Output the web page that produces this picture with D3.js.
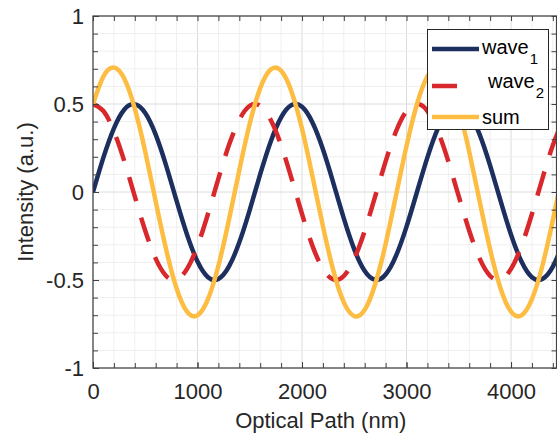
<!DOCTYPE html>
<html>
<head>
<meta charset="utf-8">
<script src="https://cdn.jsdelivr.net/npm/d3@7"></script>
<style>
  html, body { margin: 0; padding: 0; background: #fff; }
  svg { display: block; }
</style>
</head>
<body>
<div id="chart"></div>
<script>
// optical path samples (nm) and intensities
const pathNm = [0, 100, 200, 300, 400, 500, 600, 700, 800, 900, 1000, 1100, 1200, 1300, 1400, 1500,
  1600, 1700, 1800, 1900, 2000, 2100, 2200, 2300, 2400, 2500, 2600, 2700, 2800, 2900, 3000,
  3100, 3200, 3300, 3400, 3500, 3600, 3700, 3800, 3900, 4000, 4100, 4200, 4300, 4400, 4500];

const wave1 = [0, .197, .362, .469, .499, .449, .326, .150, -.051, -.243, -.395, -.484, -.494, -.424, -.286, -.101,
  .101, .286, .424, .494, .484, .395, .243, .051, -.150, -.326, -.449, -.499, -.469, -.362, -.197,
  0, .197, .362, .469, .499, .449, .326, .150, -.051, -.243, -.395, -.484, -.494, -.424, -.286];

const wave2 = [.5, .460, .345, .174, -.025, -.220, -.379, -.477, -.497, -.437, -.306, -.125, .076, .265, .410, .490,
  .490, .410, .265, .076, -.125, -.306, -.437, -.497, -.477, -.379, -.220, -.025, .174, .345, .460,
  .5, .460, .345, .174, -.025, -.220, -.379, -.477, -.497, -.437, -.306, -.125, .076, .265, .410];

const waveSum = [.5, .657, .707, .643, .474, .229, -.054, -.327, -.548, -.680, -.701, -.609, -.419, -.160, .124, .389,
  .590, .696, .689, .570, .359, .089, -.194, -.447, -.627, -.705, -.669, -.524, -.295, -.017, .262,
  .5, .657, .707, .643, .474, .229, -.054, -.327, -.548, -.680, -.701, -.609, -.419, -.160, .124];

const xTicks = [0, 1000, 2000, 3000, 4000];
const yTicks = [-1, -0.5, 0, 0.5, 1];
const xMinor = d3.range(0, 4401, 200);
const yMinor = d3.range(-10, 11).map(d => d / 10);

const W = 557, H = 439;
const L = 93, R = 556.5, T = 16, B = 368;
const FONT = '"Liberation Sans", Arial, Helvetica, sans-serif';
const TXT = "#262626";

const x = d3.scaleLinear().domain([0, 4435]).range([L, R]);
const y = d3.scaleLinear().domain([-1, 1]).range([B, T]);

const svg = d3.select("#chart").append("svg")
  .attr("width", W).attr("height", H)
  .style("font-family", FONT);

// grid
const grid = svg.append("g");
grid.selectAll(".gx").data(xMinor).join("line")
  .attr("x1", d => x(d)).attr("x2", d => x(d)).attr("y1", T).attr("y2", B)
  .attr("stroke", d => d % 1000 === 0 ? "#dcdcdc" : "#efefef").attr("stroke-width", 1);
grid.selectAll(".gy").data(yMinor).join("line")
  .attr("y1", d => y(d)).attr("y2", d => y(d)).attr("x1", L).attr("x2", R)
  .attr("stroke", d => Math.abs(d * 2 - Math.round(d * 2)) < 1e-6 ? "#dcdcdc" : "#efefef")
  .attr("stroke-width", 1);

// curves
svg.append("clipPath").attr("id", "clip")
  .append("rect").attr("x", L).attr("y", T).attr("width", R - L).attr("height", B - T);

const plot = svg.append("g").attr("clip-path", "url(#clip)");
const series = [
  { name: "wave1", vals: wave1, color: "#1c2f5e", dash: null },
  { name: "wave2", vals: wave2, color: "#d8282c", dash: "25,17" },
  { name: "sum", vals: waveSum, color: "#fdbd42", dash: null }
];
const line = d3.line().x(d => x(d[0])).y(d => y(d[1])).curve(d3.curveNatural);
series.forEach(s => {
  plot.append("path")
    .datum(pathNm.map((p, i) => [p, s.vals[i]]))
    .attr("d", line)
    .attr("fill", "none")
    .attr("stroke", s.color)
    .attr("stroke-width", 4.5)
    .attr("stroke-dasharray", s.dash);
});

// axes
function styleAxis(g) {
  g.select(".domain").remove();
  g.selectAll(".tick line").attr("stroke", "#404040");
  g.selectAll("text").attr("fill", TXT).style("font-family", FONT).attr("font-size", 22);
}
const major = 6, minor = 5;
svg.append("g").attr("transform", `translate(0,${B})`)
  .call(d3.axisBottom(x).tickValues(xTicks).tickSize(-major).tickPadding(15).tickFormat(d3.format("d")))
  .call(styleAxis);
svg.append("g").attr("transform", `translate(0,${B})`)
  .call(d3.axisBottom(x).tickValues(xMinor).tickSize(-minor).tickFormat(""))
  .call(styleAxis);
svg.append("g").attr("transform", `translate(0,${T})`)
  .call(d3.axisTop(x).tickValues(xMinor).tickSize(-minor).tickFormat(""))
  .call(styleAxis);
svg.append("g").attr("transform", `translate(${L},0)`)
  .call(d3.axisLeft(y).tickValues(yTicks).tickSize(-major).tickPadding(9).tickFormat(d => String(d)))
  .call(styleAxis);
svg.append("g").attr("transform", `translate(${L},0)`)
  .call(d3.axisLeft(y).tickValues(yMinor).tickSize(-minor).tickFormat(""))
  .call(styleAxis);
svg.append("g").attr("transform", `translate(${R},0)`)
  .call(d3.axisRight(y).tickValues(yMinor).tickSize(-minor).tickFormat(""))
  .call(styleAxis);

svg.append("rect")
  .attr("x", L).attr("y", T).attr("width", R - L).attr("height", B - T)
  .attr("fill", "none").attr("stroke", "#404040").attr("stroke-width", 1.2);

// axis titles
svg.append("text")
  .attr("x", (L + R) / 2 - 4).attr("y", 428)
  .attr("text-anchor", "middle").attr("font-size", 22).attr("fill", TXT)
  .text("Optical Path (nm)");
svg.append("text")
  .attr("transform", `translate(33,${(T + B) / 2}) rotate(-90)`)
  .attr("text-anchor", "middle").attr("font-size", 22).attr("fill", TXT)
  .text("Intensity (a.u.)");

// legend
const leg = svg.append("g");
leg.append("rect")
  .attr("x", 427.5).attr("y", 29.5).attr("width", 121).attr("height", 100)
  .attr("fill", "#fff").attr("stroke", "#262626").attr("stroke-width", 1);
const legRows = [
  { s: series[0], ly: 49, tx: 482, ty: 54, main: "wave", sub: "1", len: 47 },
  { s: series[1], ly: 86, tx: 488, ty: 88, main: "wave", sub: "2", len: 25 },
  { s: series[2], ly: 117, tx: 482, ty: 124, main: "sum", sub: null, len: 47 }
];
legRows.forEach(r => {
  leg.append("line")
    .attr("x1", 432).attr("x2", 432 + r.len).attr("y1", r.ly).attr("y2", r.ly)
    .attr("stroke", r.s.color).attr("stroke-width", 4.5);
  const t = leg.append("text")
    .attr("x", r.tx).attr("y", r.ty).attr("font-size", 20).attr("fill", "#000");
  t.append("tspan").text(r.main);
  if (r.sub) t.append("tspan").attr("dx", 1).attr("dy", 10).attr("font-size", 15).text(r.sub);
});
</script>
</body>
</html>
